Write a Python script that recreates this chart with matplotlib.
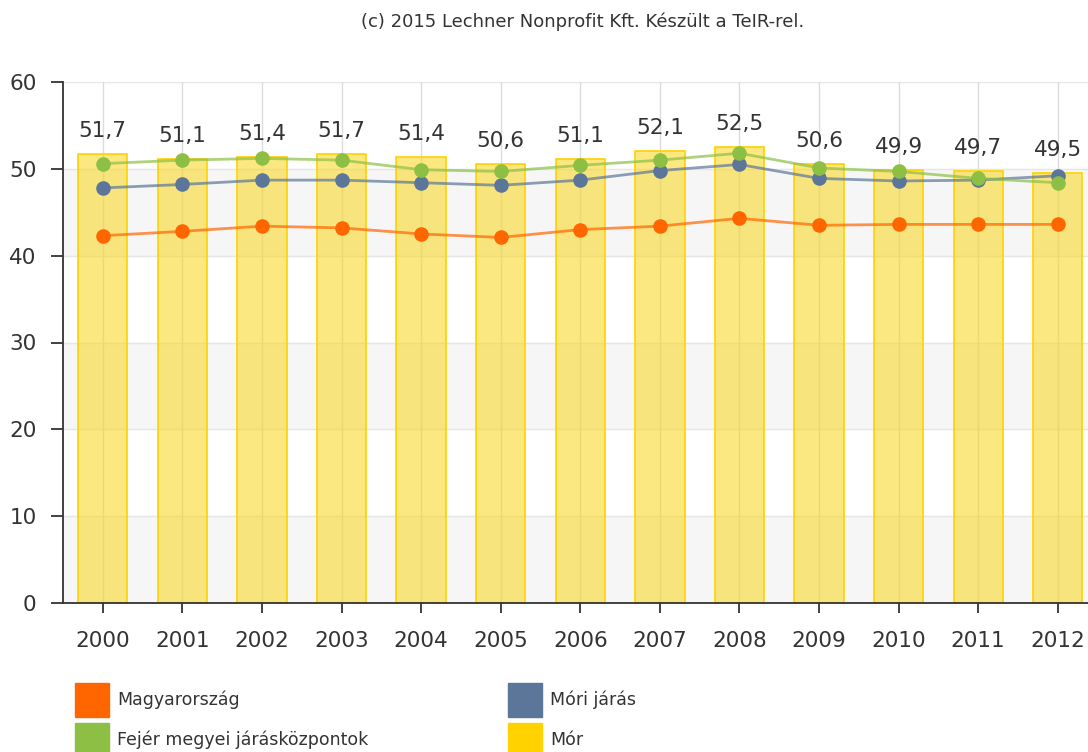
import matplotlib.pyplot as plt
from matplotlib.patches import Rectangle

plt.rcParams['font.family'] = ['DejaVu Sans']

# adatok
years = ['2000', '2001', '2002', '2003', '2004', '2005', '2006',
         '2007', '2008', '2009', '2010', '2011', '2012']
mor = [51.7, 51.1, 51.4, 51.7, 51.4, 50.6, 51.1, 52.1, 52.5, 50.6, 49.9, 49.7, 49.5]
magyarorszag = [42.3, 42.8, 43.4, 43.2, 42.5, 42.1, 43.0, 43.4, 44.3, 43.5, 43.6, 43.6, 43.6]
mori_jaras = [47.8, 48.2, 48.7, 48.7, 48.4, 48.1, 48.7, 49.8, 50.5, 48.9, 48.6, 48.7, 49.2]
fejer = [50.6, 51.0, 51.2, 51.0, 49.9, 49.7, 50.4, 51.0, 51.8, 50.1, 49.7, 48.9, 48.4]

labels = ['Magyarország', 'Móri járás', 'Fejér megyei járásközpontok', 'Mór']
colors = {'Magyarország': '#FF6600', 'Móri járás': '#5B7699',
          'Fejér megyei járásközpontok': '#8DBF45', 'Mór': '#FFD200'}

x = list(range(len(years)))

fig = plt.figure(figsize=(10.88, 7.52), dpi=100)
ax = fig.add_axes([63 / 1088, 1 - 603 / 752, 1 - 63 / 1088, (603 - 82) / 752])

# sávos háttér
for lo in (0, 20, 40):
    ax.axhspan(lo, lo + 10, color='#F6F6F6', zorder=0)
for v in range(10, 61, 10):
    ax.axhline(v, color='#E6E6E6', lw=1, zorder=0.5)
for xi in x:
    ax.axvline(xi, color='#DCDCDC', lw=1, zorder=0.5)

# oszlopok (áttetsző, hogy a rácsvonal átlátsszon)
ax.bar(x, mor, width=0.62, color=(0.98, 0.84, 0.1, 0.55), edgecolor='#FFD200',
       lw=1.2, zorder=1)
for xi, v in zip(x, mor):
    ax.text(xi, v + 1.5, f'{v:.1f}'.replace('.', ','), ha='center', va='bottom',
            fontsize=15.5, color='#333333', zorder=5)

# vonalak
for name, vals in (('Magyarország', magyarorszag), ('Móri járás', mori_jaras),
                   ('Fejér megyei járásközpontok', fejer)):
    c = colors[name]
    ax.plot(x, vals, color=c, lw=2, alpha=0.7, zorder=3)
    ax.plot(x, vals, 'o', color=c, ms=10.5, zorder=4, markeredgewidth=0)

ax.set_xlim(-0.5, 12.38)
ax.set_ylim(0, 60)
ax.set_yticks(range(0, 61, 10))
ax.set_xticks(x)
ax.set_xticklabels(years)
ax.tick_params(axis='both', labelsize=15.5, colors='#333333', width=1.3)
ax.tick_params(axis='x', length=7, pad=13)
ax.tick_params(axis='y', length=9, pad=10)
for s in ('top', 'right'):
    ax.spines[s].set_visible(False)
for s in ('left', 'bottom'):
    ax.spines[s].set_color('#333333')
    ax.spines[s].set_linewidth(1.3)

fig.text(583 / 1088, 1 - 22 / 752, '(c) 2015 Lechner Nonprofit Kft. Készült a TeIR-rel.',
         ha='center', va='center', fontsize=13, color='#333333')

# jelmagyarázat
W, H = 1088, 752
legend_pos = [(75, 700), (508, 700), (75, 740), (508, 740)]
for name, (lx, ly) in zip(labels, legend_pos):
    fig.patches.append(Rectangle((lx / W, 1 - (ly + 17) / H), 34 / W, 34 / H,
                                 transform=fig.transFigure, color=colors[name]))
    fig.text((lx + 42) / W, 1 - ly / H, name, ha='left', va='center',
             fontsize=12.5, color='#333333')

fig.savefig('out.png', dpi=100)
